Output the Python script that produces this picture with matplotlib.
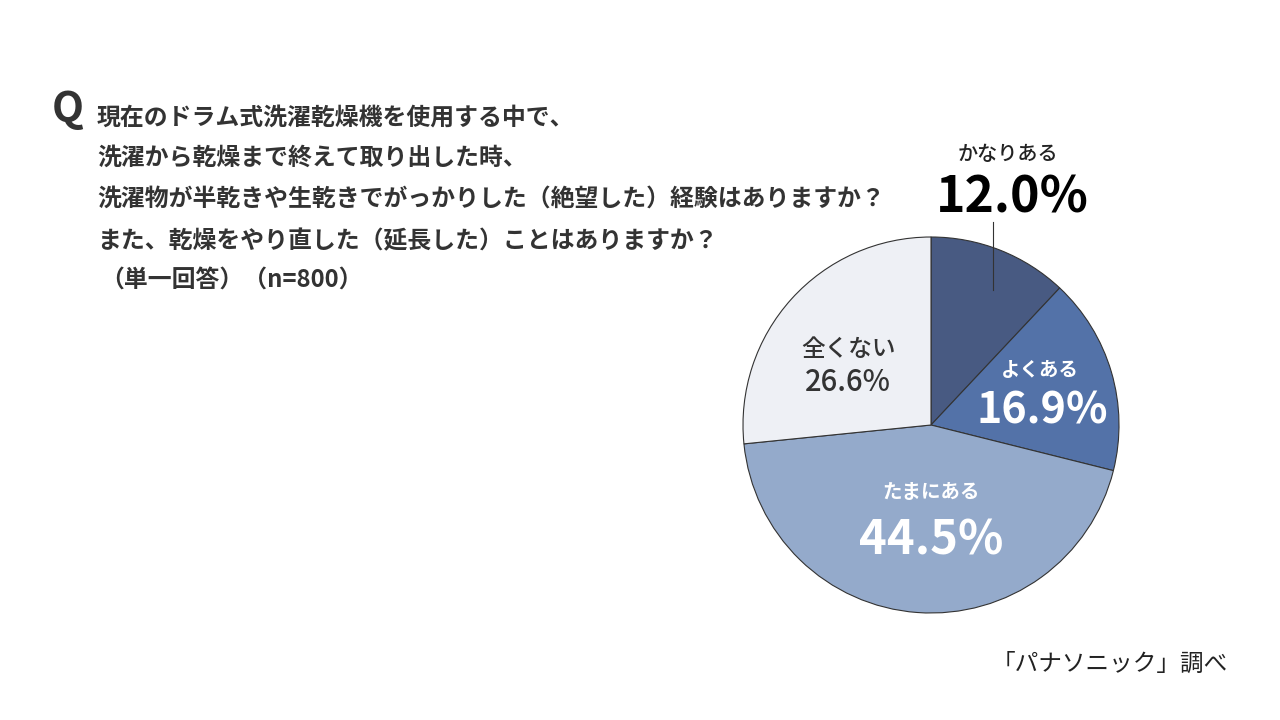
import matplotlib
matplotlib.use("Agg")
import matplotlib.pyplot as plt
import numpy as np

plt.rcParams['font.family'] = ['Noto Sans CJK JP', 'DejaVu Sans']

# data
categories = ['かなりある', 'よくある', 'たまにある', '全くない']
values = [12.0, 16.9, 44.5, 26.6]
colors = ['#485a82', '#5372a8', '#94aacb', '#eef0f5']

question = [
    '現在のドラム式洗濯乾燥機を使用する中で、',
    '洗濯から乾燥まで終えて取り出した時、',
    '洗濯物が半乾きや生乾きでがっかりした（絶望した）経験はありますか？',
    'また、乾燥をやり直した（延長した）ことはありますか？',
    '（単一回答）（n=800）',
]
source = '「パナソニック」調べ'

W, H = 1280, 720
fig = plt.figure(figsize=(W / 100, H / 100), dpi=100, facecolor='white')

# pie: centre (931, 425) px, radius 188 px
cx, cy, r = 931, 425, 188
ax = fig.add_axes([(cx - r) / W, (H - cy - r) / H, 2 * r / W, 2 * r / H])
wedges, _ = ax.pie(values, colors=colors, startangle=90, counterclock=False,
                   radius=1, wedgeprops=dict(edgecolor='#333333', linewidth=0.8))
ax.set_xlim(-1, 1)
ax.set_ylim(-1, 1)
ax.set_aspect('equal')
ax.axis('off')

dark = '#222222'
# かなりある (outside, with leader line)
ax.plot([0.33, 0.33], [0.72, 1.08], color='#333333', lw=0.8, clip_on=False)
ax.text(0.41, 1.44, categories[0], ha='center', va='center', fontsize=14.5,
        color=dark, fontweight='medium')
ax.text(0.43, 1.21, f'{values[0]:.1f}%', ha='center', va='center', fontsize=36,
        color='black', fontweight='bold')

# よくある
ax.text(0.58, 0.29, categories[1], ha='center', va='center', fontsize=14,
        color='white', fontweight='bold')
ax.text(0.59, 0.075, f'{values[1]:.1f}%', ha='center', va='center', fontsize=31,
        color='white', fontweight='bold')

# たまにある
ax.text(0.0, -0.36, categories[2], ha='center', va='center', fontsize=14,
        color='white', fontweight='bold')
ax.text(0.0, -0.615, f'{values[2]:.1f}%', ha='center', va='center', fontsize=34,
        color='white', fontweight='bold')

# 全くない
ax.text(-0.44, 0.40, categories[3], ha='center', va='center', fontsize=17,
        color='#333333', fontweight='medium')
ax.text(-0.44, 0.225, f'{values[3]:.1f}%', ha='center', va='center', fontsize=21,
        color='#333333', fontweight='medium')

# question block
fig.text(52 / W, 1 - 110 / H, 'Q', ha='left', va='center', fontsize=30,
         fontweight='bold', color='#333333')
line_y = [118, 158, 199, 241, 280]
for i, (txt, y) in enumerate(zip(question, line_y)):
    x = 97 if i < 4 else 100
    fig.text(x / W, 1 - y / H, txt, ha='left', va='center', fontsize=17.2,
             fontweight='bold', color='#333333')

fig.text(1228 / W, 1 - 664 / H, source, ha='right', va='center', fontsize=17,
         color='#222222')

fig.savefig('out.png', dpi=100, facecolor='white')
